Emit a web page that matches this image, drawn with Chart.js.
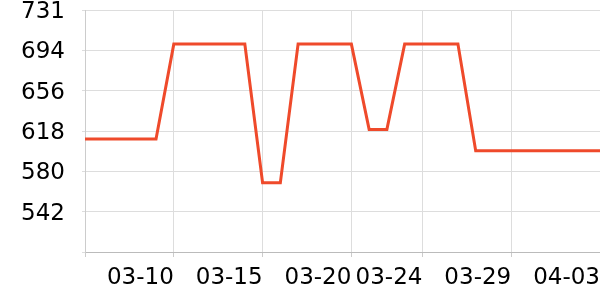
<!DOCTYPE html>
<html>
<head>
<meta charset="utf-8">
<script src="https://cdn.jsdelivr.net/npm/chart.js@4/dist/chart.umd.min.js"></script>
<style>
  html, body { margin: 0; padding: 0; background: #fff; }
  #wrap { width: 600px; height: 300px; position: relative; }
</style>
</head>
<body>
<div id="wrap"><canvas id="chart"></canvas></div>
<script>
// days shown on the x axis
const days = ["03-05","03-06","03-07","03-08","03-09","03-10","03-11","03-12","03-13","03-14",
              "03-15","03-16","03-17","03-18","03-19","03-20","03-21","03-22","03-23","03-24",
              "03-25","03-26","03-27","03-28","03-29","03-30","03-31","04-01","04-02","04-03"];
const values = [610,610,610,610,610,699,699,699,699,699,
                569,569,699,699,699,699,619,619,699,699,
                699,699,599,599,599,599,599,599,599,599];
// which day labels get a tick
const xTickLabels = ["03-10","03-15","03-20","03-24","03-29","04-03"];
const yMin = 504;
const yMax = 731;
const yTickLabels = ["", "542", "580", "618", "656", "694", "731"];

const xFont = { family: "'DejaVu Sans'", size: 23 };
// tiny line height + blank first line nudges the y labels down a couple px
const yFont = { family: "'DejaVu Sans'", size: 23, lineHeight: '4px' };

new Chart(document.getElementById("chart"), {
    type: 'line',
    data: {
        labels: days,
        datasets: [{
            data: values,
            borderColor: '#ef4a2b',
            borderWidth: 3,
            pointRadius: 0,
            tension: 0,
            fill: false
        }]
    },
    options: {
        responsive: true,
        maintainAspectRatio: false,
        animation: false,
        layout: { padding: 0 },
        plugins: { legend: { display: false }, tooltip: { enabled: false } },
        scales: {
            x: {
                offset: false,
                grid: { color: '#dddddd', tickLength: 5, tickColor: '#cccccc' },
                border: { color: '#bbbbbb' },
                ticks: {
                    autoSkip: false,
                    maxRotation: 0,
                    align: 'end',
                    padding: 7,
                    color: '#000',
                    font: xFont,
                    callback: function(v, i) {
                        const lab = days[i];
                        if (i === 0) return '';
                        return xTickLabels.includes(lab) ? lab : null;
                    }
                },
                afterFit: function(s) {
                    s.height = 48;
                    s.paddingRight = 0;
                    s.paddingLeft = 0;
                }
            },
            y: {
                min: yMin,
                max: yMax,
                grid: { color: '#dddddd', tickLength: 3 },
                border: { color: '#cccccc' },
                afterBuildTicks: function(s) {
                    const n = yTickLabels.length - 1;
                    s.ticks = yTickLabels.map((t, k) => ({ value: yMin + (yMax - yMin) * k / n }));
                },
                ticks: {
                    padding: 17,
                    color: '#000',
                    font: yFont,
                    callback: function(v, i) { return ['', yTickLabels[i]]; }
                },
                afterFit: function(s) {
                    s.width = 85;
                    s.paddingTop = 10;
                    s.paddingBottom = 0;
                }
            }
        }
    }
});
</script>
</body>
</html>
